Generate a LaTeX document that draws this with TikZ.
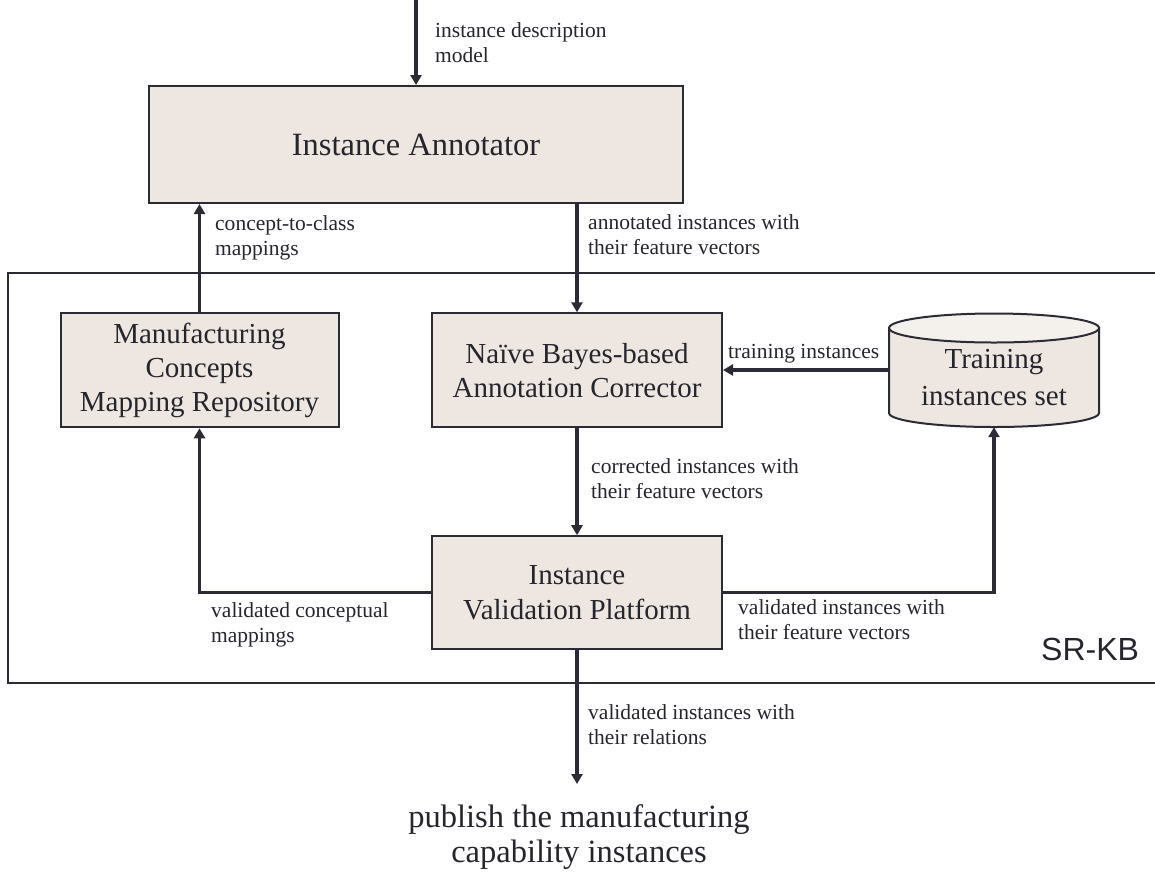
\documentclass[tikz,border=0pt]{standalone}
\usepackage{fontspec}
\setmainfont{Liberation Serif}
\newfontfamily\srkbfont{Liberation Sans}
\usetikzlibrary{arrows.meta}
\definecolor{boxfill}{HTML}{EEE7E1}
\definecolor{capfill}{HTML}{F4F1EC}
\definecolor{ink}{HTML}{2B2B35}
\definecolor{txt}{HTML}{25252D}
\begin{document}
\begin{tikzpicture}[x=1pt,y=-1pt,
 box/.style={draw=ink, line width=2pt, fill=boxfill, text=txt, align=center, inner sep=0pt, font=\fontsize{29}{34}\selectfont},
 flow/.style={draw=ink, line width=3.2pt, -{Triangle[length=10pt,width=11pt]}},
 lab/.style={anchor=base west, align=left, inner sep=0pt, text=txt, font=\fontsize{21.5}{25}\selectfont},
 frame/.style={draw=ink, line width=2.5pt}
]
\useasboundingbox (0,0) rectangle (1155,871);

% SR-KB frame (open to the right edge)
\draw[frame] (1155,273) -- (8,273) -- (8,683) -- (1155,683);

% boxes
\node[box, minimum width=534pt, minimum height=117pt, font=\fontsize{32.5}{38}\selectfont] (annot) at (416,144.5) {Instance Annotator};
\node[box, minimum width=278pt, minimum height=114pt] (manu) at (199.5,370.3) {Manufacturing\\Concepts\\Mapping Repository};
\node[box, minimum width=290pt, minimum height=114pt] (naive) at (577,370.3) {Naïve Bayes-based\\Annotation Corrector};
\node[box, minimum width=290pt, minimum height=113pt, font=\fontsize{29}{35}\selectfont] (valid) at (577,592.7) {Instance\\Validation Platform};

% cylinder
\filldraw[fill=boxfill, draw=ink, line width=2pt] (889,328) -- (889,413) arc[start angle=180, end angle=0, x radius=105, y radius=14] -- (1099,328) -- cycle;
\filldraw[fill=capfill, draw=ink, line width=2pt] (994,328) ellipse[x radius=105, y radius=14.5];
\node[inner sep=0pt, minimum width=210pt, minimum height=114pt] (train) at (994,370) {};
\node[inner sep=0pt, text=txt, align=center, anchor=base, font=\fontsize{29}{37}\selectfont] (traintext) at (994,405) {Training\\instances set};

% connectors
\coordinate (src) at (416,0);
\coordinate (pubtip) at (577,784);
\draw[flow] (src) -- (annot.north);
\draw[flow] (manu.north) -- (manu.north |- annot.south);
\draw[flow] (naive.north |- annot.south) -- (naive.north);
\draw[flow] (train.west) -- (train.west -| naive.east);
\draw[flow] (naive.south) -- (valid.north);
\draw[flow] (valid.west) -| (manu.south);
\draw[flow] (valid.east) -| (train.south);
\draw[flow] (valid.south) -- (pubtip);

% labels (anchored at the baseline of their last line)
\node[lab] (l1) at (435,62) {instance description\\model};
\node[lab] (l2) at (215,255) {concept-to-class\\mappings};
\node[lab] (l3) at (588,254) {annotated instances with\\their feature vectors};
\node[lab] (l4) at (728,358) {training instances};
\node[lab] (l5) at (591,498) {corrected instances with\\their feature vectors};
\node[lab] (l6) at (211,642) {validated conceptual\\mappings};
\node[lab] (l7) at (738,639) {validated instances with\\their feature vectors};
\node[lab] (l8) at (588,744) {validated instances with\\their relations};
\node[anchor=base west, inner sep=0pt, text=txt, font=\srkbfont\fontsize{32}{38}\selectfont] (srkb) at (1041,660) {SR-KB};

\node[text=txt, align=center, inner sep=0pt, anchor=base, font=\fontsize{32.5}{35}\selectfont] (pub) at (579,862) {publish the manufacturing\\capability instances};
\end{tikzpicture}
\end{document}
